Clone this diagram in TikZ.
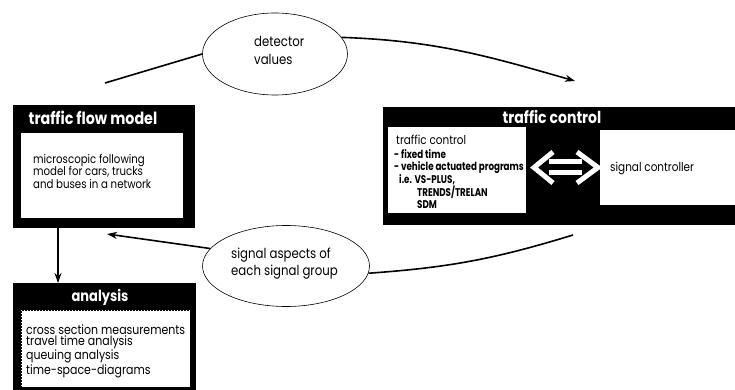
\documentclass[tikz,border=0pt]{standalone}
\usepackage{fontspec}
\usetikzlibrary{arrows.meta,shapes.geometric}
\newfontfamily\cf{Poppins}[FakeStretch=0.85]
\newfontfamily\cfn{Poppins}[FakeStretch=0.78]
\tikzset{
  blackbox/.style={fill=black, draw=none, inner sep=0pt, anchor=north west},
  whitebox/.style={fill=white, draw=none, inner sep=0pt, anchor=north west},
  dotbox/.style={fill=white, draw=black, densely dotted, line width=0.5pt, inner sep=0pt, anchor=north west},
  titletext/.style={text=white, font=\cf\bfseries\fontsize{16.5}{18}\selectfont, inner sep=0pt},
  bodytext/.style={font=\cf\fontsize{12}{12.6}\selectfont, align=left, inner sep=0pt, anchor=north west},
  midtext/.style={font=\cf\fontsize{12.3}{14}\selectfont, align=left, inner sep=0pt, anchor=north west},
  listtext/.style={font=\cfn\bfseries\fontsize{11.2}{11.9}\selectfont, align=left, inner sep=0pt, anchor=north west},
  antext/.style={font=\cf\fontsize{12.9}{11.7}\selectfont, align=left, inner sep=0pt, anchor=north west},
  bubbletext/.style={font=\cf\fontsize{13.8}{18}\selectfont, align=left, inner sep=0pt, anchor=north west},
  bubble/.style={ellipse, draw=black, line width=0.6pt, fill=white, inner sep=0pt},
  flow/.style={line width=1.6pt, -{Stealth[length=10pt,width=7pt]}},
  flowline/.style={line width=1.6pt},
  dblarrow/.style={white, line width=5pt}
}
\begin{document}
\begin{tikzpicture}[x=1pt,y=-1pt]
\useasboundingbox (0,0) rectangle (735,390);
\fill[white] (0,0) rectangle (735,390);

% traffic flow model
\node[blackbox, minimum width=182pt, minimum height=123pt] (tfm) at (13,105) {};
\node[titletext, font=\cf\bfseries\fontsize{16.8}{18}\selectfont] (tfmt) at (93,118) {traffic flow model};
\node[whitebox, minimum width=162pt, minimum height=85pt] (tfmin) at (21,133) {};
\node[bodytext] (tfmtx) at (33,154) {microscopic following\\model for cars, trucks\\and buses in a network};

% traffic control
\node[blackbox, minimum width=360pt, minimum height=118pt] (tc) at (383,107) {};
\node[titletext] (tct) at (552,117) {traffic control};
\node[whitebox, minimum width=138pt, minimum height=86pt] (tcl) at (388,127) {};
\node[whitebox, minimum width=140pt, minimum height=75pt] (sc) at (600,130) {};
\node[midtext] (tcltx) at (396,135) {traffic control};
\node[listtext] (tcllist) at (394,149.5) {- fixed time\\- vehicle actuated programs\\\hspace{5pt}i.e. VS-PLUS,\\\hspace{23pt}TRENDS/TRELAN\\\hspace{23pt}SDM};
\node[midtext, anchor=west] (sctx) at (610,168) {signal controller};

% double arrow between the two inner boxes
\draw[dblarrow, line cap=butt, line join=miter] (553,152) -- (534,167.5) -- (553,183);
\draw[dblarrow, line cap=butt, line join=miter] (577,152) -- (598,167.5) -- (577,183);
\draw[white, line width=4.2pt] (549,161.5) -- (582,161.5);
\draw[white, line width=4.2pt] (549,172.5) -- (582,172.5);

% analysis
\node[blackbox, minimum width=183pt, minimum height=115pt] (an) at (13,283) {};
\node[titletext, font=\cf\bfseries\fontsize{15.3}{18}\selectfont] (ant) at (100,297) {analysis};
\node[dotbox, minimum width=169pt, minimum height=77pt] (anin) at (21,310) {};
\node[antext] (antx) at (26,324) {cross section measurements\\travel time analysis\\queuing analysis\\time-space-diagrams};

% bubbles
\node[bubble, minimum width=145pt, minimum height=82pt] (det) at (275,54) {};
\node[bubbletext] (dettx) at (254,36) {detector\\values};
\node[bubble, minimum width=167pt, minimum height=81pt] (sig) at (286,266) {};
\node[bubbletext, font=\cf\fontsize{13.8}{17}\selectfont] (sigtx) at (231,248) {signal aspects of\\each signal group};

% connectors
\coordinate (dstart) at (105,83);
\coordinate (dend) at (575,81);
\coordinate (sstart) at (573,235);
\coordinate (send) at (107,234);
\coordinate (ax) at (58,0);
\draw[flowline] (dstart) -- (det.west);
\draw[flow] (det.14) to[out=-2,in=164] (dend);
\draw[flowline] (sstart) to[out=197,in=4] (sig.-5);
\draw[flow] (sig.167) -- (send);
\draw[flow] (tfm.south -| ax) -- (an.north -| ax);
\end{tikzpicture}
\end{document}
